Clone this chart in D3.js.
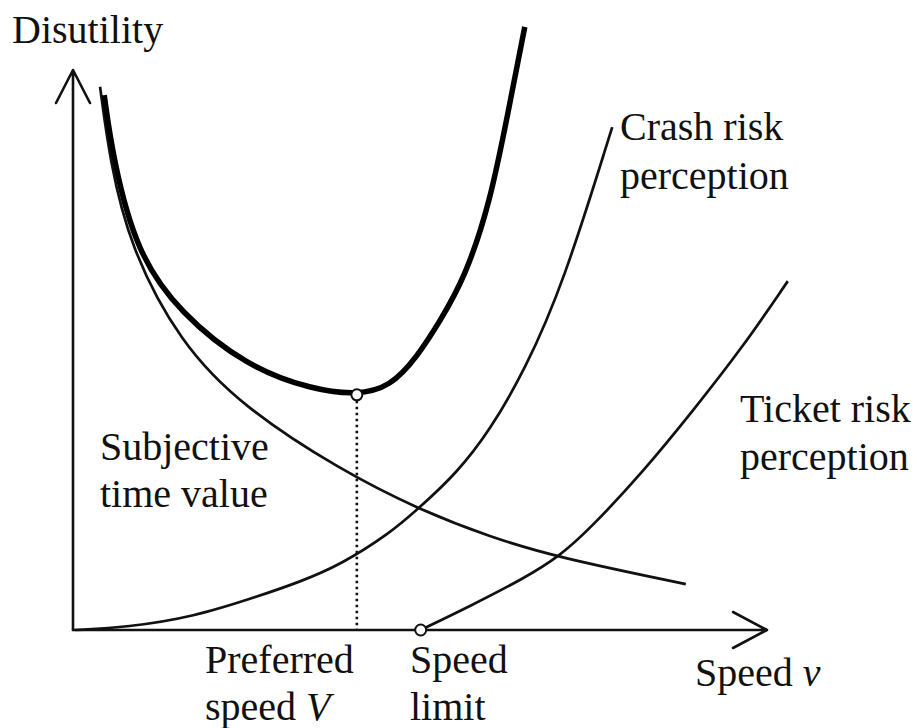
<!DOCTYPE html>
<html>
<head>
<meta charset="utf-8">
<script src="https://cdn.jsdelivr.net/npm/d3@7"></script>
<style>
  body { margin: 0; background: #fff; }
  svg text { font-family: "Liberation Serif", "Times New Roman", serif; font-size: 40px; fill: #111; }
</style>
</head>
<body>
<svg id="chart" width="917" height="728"></svg>
<script>
// speed (0-100 along the axis) and disutility (0-100 along the axis)
const timeSpeed   = [3.9, 5.3, 8.2, 15.4, 24.5, 38.5, 49.7, 60.1, 69.7, 88.3];
const timeValue   = [97.0, 83.9, 68.4, 51.3, 39.8, 28.6, 21.6, 16.6, 13.0, 8.2];

const crashSpeed  = [0.3, 7.8, 17.3, 26.9, 32.7, 38.5, 45.7, 49.7, 55.3, 60.1, 65.1, 70.6, 77.7];
const crashValue  = [0, 0.5, 2.3, 6.1, 8.6, 11.6, 17.3, 21.6, 28.0, 35.7, 46.4, 61.6, 89.8];

const ticketSpeed = [50.1, 57.6, 64.8, 70.2, 74.9, 82.1, 89.3, 96.5, 103.0];
const ticketValue = [0, 4.5, 9.1, 13.2, 18.6, 28.2, 39.1, 50.5, 62.3];

const totalSpeed  = [4.5, 5.8, 9.2, 15.4, 25.1, 34.6, 40.9, 45.7, 49.6, 52.9, 56.5, 60.1, 62.7, 65.1];
const totalValue  = [95.5, 83.9, 67.3, 56.6, 47.0, 42.9, 42.0, 43.4, 48.8, 55.2, 63.0, 76.3, 92.5, 107.7];

const preferred = {speed: 40.9, value: 42.0};
const speedLimit = 50.1;

const svg = d3.select("#chart");

const x = d3.scaleLinear().domain([0, 100]).range([73, 767]);
const y = d3.scaleLinear().domain([0, 100]).range([630, 70]);

const pts = (xs, ys) => xs.map((v, i) => [v, ys[i]]);

const line = d3.line()
  .x(d => x(d[0]))
  .y(d => y(d[1]))
  .curve(d3.curveBasis);

// axes with open arrow heads
const x0 = x(0), y0 = y(0), xEnd = x(100), yEnd = y(100);
svg.append("path")
  .attr("d", `M${x0},${y0}L${x0},${yEnd} M${x0 - 17},${yEnd + 33}L${x0},${yEnd}L${x0 + 17},${yEnd + 33}`)
  .attr("fill", "none").attr("stroke", "#111").attr("stroke-width", 2.6)
  .attr("stroke-linecap", "round").attr("stroke-linejoin", "round");
svg.append("path")
  .attr("d", `M${x0},${y0}L${xEnd},${y0} M${xEnd - 34},${y0 - 18}L${xEnd},${y0}L${xEnd - 34},${y0 + 18}`)
  .attr("fill", "none").attr("stroke", "#111").attr("stroke-width", 2.6)
  .attr("stroke-linecap", "round").attr("stroke-linejoin", "round");

// dotted drop line at preferred speed
svg.append("line")
  .attr("x1", x(preferred.speed)).attr("x2", x(preferred.speed))
  .attr("y1", y(preferred.value)).attr("y2", y0)
  .attr("stroke", "#111").attr("stroke-width", 2.6)
  .attr("stroke-dasharray", "2.5,3.5");

// component curves
[[timeSpeed, timeValue], [crashSpeed, crashValue], [ticketSpeed, ticketValue]].forEach(s => {
  svg.append("path")
    .datum(pts(s[0], s[1]))
    .attr("d", line)
    .attr("fill", "none")
    .attr("stroke", "#111")
    .attr("stroke-width", 2.7);
});

// total disutility
svg.append("path")
  .datum(pts(totalSpeed, totalValue))
  .attr("d", line)
  .attr("fill", "none")
  .attr("stroke", "#000")
  .attr("stroke-width", 5.5);

// markers
svg.append("circle")
  .attr("cx", x(preferred.speed)).attr("cy", y(preferred.value)).attr("r", 5.5)
  .attr("fill", "#fff").attr("stroke", "#111").attr("stroke-width", 2);
svg.append("circle")
  .attr("cx", x(speedLimit)).attr("cy", y0).attr("r", 5.5)
  .attr("fill", "#fff").attr("stroke", "#111").attr("stroke-width", 2);

// labels
function label(tx, ty, parts) {
  const t = svg.append("text").attr("x", tx).attr("y", ty);
  parts.forEach(p => {
    const s = t.append("tspan").text(p[0]);
    if (p[1]) s.style("font-style", "italic");
  });
}
label(12, 43, [["Disutility"]]);
label(620, 140, [["Crash risk"]]);
label(620, 189, [["perception"]]);
label(740, 422, [["Ticket risk"]]);
label(740, 470, [["perception"]]);
label(100, 460, [["Subjective"]]);
label(100, 507, [["time value"]]);
label(205, 673, [["Preferred"]]);
label(205, 720, [["speed "], ["V", true]]);
label(410, 673, [["Speed"]]);
label(410, 720, [["limit"]]);
label(695, 686, [["Speed "], ["v", true]]);
</script>
</body>
</html>
